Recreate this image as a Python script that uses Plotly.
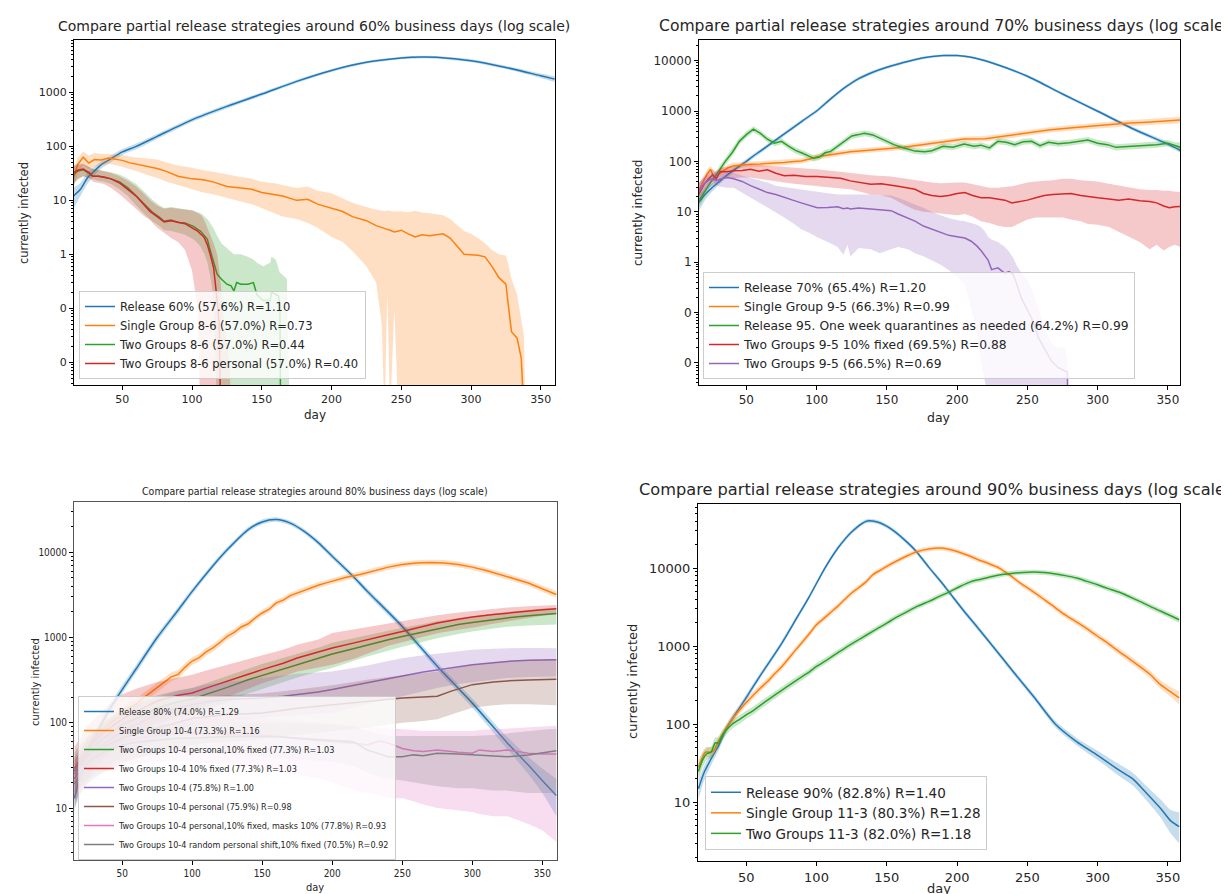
import plotly.graph_objects as go

W, H = 1229, 894

# ---------------- data: rows are (day, mean, low, high) ----------------
# Panel 1: around 60%
P1_BLUE = [(15, 12, 7, 17), (20, 16, 12, 21), (25, 26, 20, 32), (30, 35, 29, 42), (35, 46, 39, 53),
           (40, 55, 47, 63), (50, 79, 69, 89), (60, 100, 88, 113), (75, 153, 137, 170), (100, 310, 283, 340),
           (125, 550, 505, 598), (150, 930, 860, 1005), (175, 1600, 1490, 1720), (200, 2550, 2390, 2720),
           (225, 3600, 3390, 3820), (250, 4330, 4090, 4580), (265, 4500, 4250, 4760), (275, 4450, 4200, 4710),
           (300, 3850, 3620, 4090), (325, 2900, 2700, 3110), (350, 2030, 1850, 2230), (360, 1760, 1560, 1980)]
P1_ORANGE = [(15, 26, 17, 38), (18, 46, 30, 60), (22, 63, 45, 80), (26, 49, 38, 68), (30, 57, 42, 75),
             (35, 56, 44, 72), (40, 61, 48, 72), (45, 58, 45, 71), (50, 55, 42, 70), (55, 50, 38, 65),
             (60, 47, 35, 62), (67, 43, 30, 60), (75, 39, 26, 57), (82, 34, 22, 50), (90, 28, 19, 44),
             (100, 25, 16, 40), (108, 24, 14, 36), (115, 22, 13, 34), (125, 18, 11, 30), (135, 17, 9.5, 27),
             (143, 16, 8.5, 25), (150, 14, 7.2, 22), (158, 13, 6, 21), (165, 12, 5, 19), (175, 10, 4.5, 17),
             (183, 10.5, 3.8, 18), (190, 8.5, 3.1, 15), (200, 7.2, 2.1, 13.6), (208, 6.2, 1.7, 11),
             (215, 5.0, 1.15, 9), (225, 4.2, 0.6, 7.5), (232, 3.4, 0.3, 6.7), (236, 3.1, 0.05, 6.5),
             (238, 3.0, 0.001, 6.3), (240, 2.9, 0.2, 6.5), (242, 2.8, 0.001, 6.4), (245, 2.6, 0.1, 6.2),
             (248, 2.7, 0.001, 6.3), (250, 2.8, 0.001, 6.3), (255, 2.4, 0.001, 6.0), (260, 2.1, 0.001, 6.4),
             (265, 2.3, 0.001, 5.9), (270, 2.2, 0.001, 5.8), (275, 2.3, 0.001, 5.5), (280, 2.4, 0.001, 5.3),
             (285, 2.0, 0.001, 4.5), (290, 1.4, 0.001, 3.5), (295, 1.0, 0.001, 2.7), (300, 0.98, 0.001, 2.4),
             (305, 0.96, 0.001, 2.0), (310, 0.9, 0.001, 1.6), (315, 0.6, 0.001, 1.2), (320, 0.37, 0.001, 1.0),
             (325, 0.28, 0.001, 0.95), (327, 0.10, 0.001, 0.6), (329, 0.037, 0.001, 0.35),
             (333, 0.028, 0.001, 0.18), (336, 0.012, 0.001, 0.06), (338, 0.001, 0.001, 0.03),
             (339, 0.001, 0.001, 0.001)]
P1_GREEN = [(15, 30, 20, 42), (18, 35, 24, 45), (22, 37, 28, 46), (26, 32, 26, 42), (29, 28, 24, 38),
            (33, 28, 23, 36), (37, 27, 22, 35), (42, 25, 20, 33), (48, 22, 16, 30), (54, 17, 12, 25),
            (60, 12, 8, 20), (66, 8.5, 5.5, 14), (72, 5.9, 4.0, 10), (77, 4.8, 3.3, 8), (80, 4.1, 2.8, 7.2),
            (85, 4.3, 2.7, 7.5), (90, 3.9, 2.5, 7.2), (95, 3.8, 2.3, 7.0), (98, 3.5, 2.1, 6.8),
            (101, 3.3, 1.9, 6.5), (104, 2.9, 1.6, 6.0), (106, 2.7, 1.4, 5.8), (109, 2.2, 1.0, 5.0),
            (111, 1.9, 0.7, 4.5), (113, 1.2, 0.4, 3.8), (115.5, 0.74, 0.15, 3.0), (118, 0.43, 0.001, 2.2),
            (121, 0.35, 0.001, 1.6), (125, 0.28, 0.001, 1.3), (128, 0.26, 0.001, 1.1), (130, 0.21, 0.001, 1.0),
            (132, 0.3, 0.001, 1.0), (135, 0.28, 0.001, 1.0), (140, 0.28, 0.001, 0.9), (144, 0.30, 0.001, 0.8),
            (146.5, 0.18, 0.001, 0.7), (151, 0.14, 0.001, 0.6), (156, 0.14, 0.001, 0.7), (157, 0.2, 0.001, 0.9),
            (160, 0.18, 0.001, 0.8), (162, 0.17, 0.001, 0.5), (163, 0.12, 0.001, 0.45),
            (163.5, 0.001, 0.001, 0.45), (168, 0.001, 0.001, 0.35), (170, 0.001, 0.001, 0.001)]
P1_RED = [(15, 32, 20, 45), (18, 36, 25, 47), (22, 38, 28, 48), (26, 33, 26, 42), (29, 28, 22, 38),
          (33, 28, 21, 37), (37, 27, 20, 35), (42, 25, 17, 32), (48, 21, 13, 28), (54, 16, 9.5, 23),
          (60, 12, 7, 18), (66, 8, 5, 13), (70, 6.2, 4.3, 10), (75, 5.0, 3.1, 8), (80, 4.0, 2.5, 7),
          (85, 4.2, 2.0, 7.3), (90, 3.9, 1.7, 7), (95, 3.7, 1.2, 6.8), (100, 3.1, 0.5, 6.5),
          (104, 2.7, 0.1, 5.8), (106, 2.4, 0.001, 5.5), (107, 2.3, 0.001, 5.2), (109, 2.0, 0.001, 4.2),
          (111, 1.5, 0.001, 3.2), (113, 1.0, 0.001, 2.3), (115.5, 0.56, 0.001, 1.6), (118, 0.14, 0.001, 1.0),
          (119.5, 0.05, 0.001, 0.5), (120.5, 0.001, 0.001, 0.3), (123, 0.001, 0.001, 0.05),
          (127, 0.001, 0.001, 0.01), (128, 0.001, 0.001, 0.001)]

# Panel 2: around 70%
P2_BLUE = [(16, 15, 10, 21), (20, 21, 16, 27), (25, 29, 24, 35), (30, 38, 33, 44), (35, 50, 44, 57),
           (40, 64, 57, 72), (45, 80, 72, 89), (50, 100, 90, 111), (55, 128, 116, 141), (60, 160, 145, 176),
           (75, 320, 292, 350), (90, 640, 585, 700), (100, 1000, 915, 1090), (110, 1740, 1600, 1890),
           (120, 2900, 2670, 3150), (130, 4400, 4060, 4770), (140, 5900, 5460, 6370), (150, 7400, 6900, 7950),
           (160, 8900, 8320, 9520), (175, 11300, 10600, 12000), (190, 12600, 11900, 13300),
           (200, 12600, 11900, 13300), (210, 11700, 11000, 12400), (225, 9000, 8450, 9600),
           (250, 4900, 4580, 5250), (275, 2180, 2030, 2340), (300, 990, 920, 1070), (325, 445, 410, 485),
           (350, 220, 200, 243), (359, 165, 148, 185)]
P2_ORANGE = [(16, 26, 20, 34), (19, 38, 30, 48), (22, 56, 45, 68), (24.5, 70, 58, 82), (27, 48, 40, 60),
             (30, 55, 46, 66), (33, 63, 54, 74), (37, 75, 65, 87), (41, 82, 71, 94), (47, 86, 75, 98),
             (53, 88, 77, 100), (60, 89, 78, 101), (67, 91, 80, 104), (77, 95, 83, 108), (84, 100, 88, 114),
             (89, 102, 90, 116), (95, 112, 98, 127), (100.5, 124, 109, 141), (110, 136, 120, 154),
             (124, 156, 138, 176), (135, 165, 146, 186), (150, 178, 157, 201), (162, 190, 168, 215),
             (175, 215, 190, 243), (190, 240, 212, 272), (205, 277, 245, 313), (220, 280, 247, 318),
             (235, 320, 282, 362), (253, 380, 335, 430), (265, 420, 370, 477), (280, 460, 405, 523),
             (293, 495, 435, 565), (305, 525, 460, 600), (320, 570, 495, 655), (335, 600, 520, 695),
             (350, 640, 550, 745), (359, 665, 570, 775)]
P2_GREEN = [(16, 16, 12, 21), (20, 24, 19, 30), (25, 40, 33, 48), (30, 62, 52, 74), (35, 100, 85, 118),
            (40, 150, 128, 176), (45, 250, 215, 290), (50, 340, 295, 390), (55, 435, 380, 500),
            (60, 360, 315, 410), (65, 275, 240, 315), (70, 230, 200, 265), (75, 250, 218, 287),
            (80, 200, 175, 230), (85, 165, 144, 189), (90, 145, 127, 166), (95, 125, 109, 143),
            (98, 115, 100, 132), (102, 122, 106, 140), (106, 148, 129, 170), (110, 158, 138, 181),
            (115, 200, 174, 230), (120, 250, 218, 287), (125, 320, 280, 366), (130, 340, 297, 389),
            (134, 360, 315, 412), (140, 335, 293, 383), (148, 265, 231, 304), (155, 215, 188, 246),
            (162, 185, 161, 212), (170, 160, 140, 183), (177, 155, 135, 178), (182, 163, 142, 187),
            (190, 200, 174, 230), (197, 190, 166, 218), (205, 220, 192, 252), (212, 200, 174, 230),
            (217, 210, 183, 241), (223, 185, 161, 212), (229, 250, 218, 287), (235, 240, 209, 275),
            (241, 215, 188, 246), (247, 245, 214, 281), (253, 250, 218, 287), (259, 205, 179, 235),
            (265, 240, 209, 275), (272, 225, 196, 258), (280, 235, 205, 270), (287, 255, 222, 292),
            (293, 265, 231, 304), (300, 230, 200, 265), (307, 215, 187, 247), (313, 190, 165, 218),
            (320, 195, 170, 224), (328, 200, 174, 230), (335, 205, 178, 236), (342, 215, 187, 247),
            (350, 230, 200, 265), (355, 210, 183, 241), (359, 190, 150, 240)]
P2_RED = [(16, 22, 16, 37), (20, 35, 25, 50), (23, 45, 33, 62), (26, 54, 40, 70), (28.5, 45, 34, 63),
          (31.5, 63, 45, 75), (36, 62, 46, 78), (41, 65, 47, 82), (47, 66, 48, 86), (53, 70, 48, 88),
          (59, 64, 45, 85), (65, 68, 42, 82), (71, 58, 40, 80), (77, 52, 38, 77), (84, 53, 36, 74),
          (92, 50, 34, 72), (100.5, 50, 33, 70), (110, 47, 30, 66), (117, 46, 29, 63), (124, 41, 28, 60),
          (131, 38, 25, 56), (138.5, 35, 22, 53), (146, 36, 21, 52), (153, 33, 19, 50), (158, 32, 16, 48),
          (164, 30, 13, 45), (170, 28, 11, 42), (176, 23, 10, 40), (182, 21, 9.7, 38), (188, 20, 9.3, 37),
          (194, 21, 9, 38), (200, 23, 8.5, 38), (205.5, 24, 9, 38), (211, 21, 8, 35), (217, 19, 6.5, 32),
          (223, 19, 6, 30), (229, 18, 5.3, 30), (234, 17, 5, 31), (239, 15, 5, 32), (245, 16, 6, 35),
          (250, 17, 7, 38), (256, 19, 7.7, 40), (262, 21, 7.7, 41), (268, 22, 7.7, 42), (275, 22.5, 7.7, 45),
          (281, 23, 7, 45), (288, 21, 6.5, 42), (293, 20, 5.7, 41), (300, 19, 5.5, 40), (308, 18, 5, 36),
          (315, 17, 4, 33), (322, 18, 3.2, 30), (330, 16.5, 2.5, 28), (337, 16, 1.8, 27), (342, 15, 2.2, 27),
          (347, 13, 1.7, 26), (351, 12, 2.0, 26), (355, 12.5, 2.2, 25), (359, 12.8, 2.0, 25)]
P2_PURPLE = [(16, 25, 19, 38), (20, 36, 27, 48), (24.5, 45, 32, 56), (29, 42, 33, 60), (33, 46, 31, 60),
             (36.5, 48, 30, 60), (41, 45, 30, 60), (47, 40, 24, 52), (53, 33, 19, 46), (59, 28, 15, 42),
             (65, 24, 12, 38), (71, 22, 9.5, 33), (77, 19, 7.7, 31), (83, 17, 6, 29), (89, 15, 4.5, 28),
             (95, 13.5, 3.8, 26), (100.5, 12, 3.1, 25), (108, 12.2, 2.5, 23), (115, 12.6, 2.0, 22),
             (119, 11.5, 1.4, 22), (122, 11.8, 2.2, 22), (124, 11.3, 1.3, 22), (130, 11.8, 1.9, 22),
             (138.5, 11.3, 1.8, 22), (145, 11, 1.5, 21), (153, 10.5, 1.8, 21), (158, 9, 2.0, 19),
             (165, 7.5, 1.8, 16), (170, 6.5, 1.5, 14), (176, 5.2, 1.3, 12), (182, 4.5, 1.1, 10),
             (188, 3.8, 0.9, 8.5), (194, 3.4, 0.7, 7.5), (200, 3.2, 0.5, 6.8), (205.5, 3.0, 0.35, 6.5),
             (210, 2.6, 0.12, 6.0), (214, 2.1, 0.04, 5.5), (217, 1.7, 0.01, 5), (220, 1.3, 0.004, 4),
             (222, 1.1, 0.002, 3.2), (224.5, 0.71, 0.0001, 2.8), (229, 0.77, 0.0001, 2.5),
             (234, 0.6, 0.0001, 2.0), (237, 0.65, 0.0001, 1.6), (240, 0.56, 0.0001, 1.2),
             (242, 0.4, 0.0001, 0.9), (245.8, 0.19, 0.0001, 0.6), (250, 0.11, 0.0001, 0.45),
             (253, 0.077, 0.0001, 0.3), (258, 0.031, 0.0001, 0.12), (262, 0.02, 0.0001, 0.05),
             (267, 0.011, 0.0001, 0.025), (272, 0.008, 0.0001, 0.02), (276.7, 0.0067, 0.0001, 0.02),
             (278.5, 0.0065, 0.0001, 0.012), (279, 0.0001, 0.0001, 0.0001)]

# Panel 3: around 80%
P3_BLUE = [(16, 13, 9, 18), (20, 25, 19, 32), (25, 43, 35, 52), (30, 65, 55, 77), (40, 135, 118, 155),
           (50, 245, 218, 275), (60, 430, 385, 480), (75, 1000, 905, 1100), (90, 2100, 1920, 2300),
           (100, 3480, 3200, 3780), (115, 7000, 6500, 7550), (125, 10700, 9950, 11500),
           (140, 18500, 17300, 19800), (150, 22700, 21300, 24200), (160, 24200, 22800, 25700),
           (170, 22000, 20700, 23400), (180, 17600, 16500, 18800), (190, 13000, 12100, 13950),
           (200, 9000, 8380, 9680), (215, 5200, 4820, 5600), (225, 3500, 3230, 3790), (250, 1350, 1230, 1480),
           (275, 460, 415, 510), (300, 170, 150, 193), (325, 58, 49, 68), (340, 32, 25, 40),
           (350, 21, 15, 29), (360, 14, 8, 22)]
P3_ORANGE = [(16, 27, 18, 38), (20, 35, 26, 46), (25, 50, 40, 62), (30, 62, 51, 75), (35, 78, 65, 93),
             (40, 95, 80, 112), (45, 110, 93, 130), (50, 125, 107, 146), (55, 150, 129, 174),
             (60, 165, 143, 190), (65, 195, 170, 223), (70, 225, 197, 256), (75, 260, 229, 295),
             (80, 300, 265, 340), (85, 345, 306, 389), (90, 370, 330, 415), (95, 450, 402, 504),
             (100, 530, 475, 592), (105, 580, 522, 645), (110, 680, 612, 755), (115, 760, 686, 842),
             (120, 880, 796, 973), (125, 1030, 935, 1135), (130, 1150, 1045, 1265), (135, 1330, 1212, 1460),
             (140, 1450, 1323, 1590), (145, 1700, 1555, 1860), (150, 1940, 1776, 2120), (155, 2150, 1970, 2345),
             (160, 2550, 2340, 2780), (165, 2750, 2525, 2995), (170, 3100, 2850, 3370), (175, 3330, 3065, 3620),
             (180, 3600, 3315, 3910), (185, 3850, 3548, 4178), (190, 4100, 3780, 4447), (195, 4350, 4012, 4717),
             (200, 4600, 4245, 4985), (210, 5100, 4710, 5520), (220, 5500, 5085, 5950), (230, 6100, 5645, 6590),
             (240, 6700, 6205, 7235), (250, 7200, 6670, 7770), (260, 7500, 6950, 8090), (270, 7600, 7045, 8200),
             (280, 7500, 6950, 8095), (290, 7200, 6670, 7775), (300, 6700, 6200, 7240), (310, 6100, 5640, 6600),
             (320, 5500, 5080, 5955), (325, 5200, 4800, 5635), (330, 4900, 4520, 5315), (340, 4370, 4025, 4745),
             (350, 3750, 3440, 4090), (360, 3200, 2920, 3510)]
P3_GREEN = [(16, 27, 15, 45), (20, 34, 20, 55), (25, 44, 27, 70), (30, 53, 33, 82), (40, 72, 45, 110),
            (50, 95, 60, 145), (60, 112, 72, 168), (75, 150, 95, 210), (90, 177, 112, 240), (100, 190, 125, 255),
            (110, 215, 143, 290), (125, 260, 175, 350), (140, 320, 220, 430), (150, 360, 250, 490),
            (165, 430, 300, 580), (175, 480, 340, 640), (190, 570, 400, 760), (200, 640, 440, 870),
            (215, 740, 530, 980), (225, 820, 600, 1080), (240, 940, 700, 1200), (250, 1030, 780, 1300),
            (265, 1160, 890, 1440), (275, 1270, 980, 1560), (290, 1420, 1100, 1700), (300, 1500, 1180, 1780),
            (315, 1620, 1280, 1920), (325, 1700, 1340, 2000), (340, 1800, 1380, 2120), (350, 1870, 1400, 2180),
            (360, 1920, 1420, 2230)]
P3_RED = [(16, 29, 14, 52), (20, 38, 18, 68), (25, 50, 22, 92), (30, 61, 28, 110), (40, 85, 42, 160),
          (50, 110, 61, 215), (60, 135, 78, 250), (75, 180, 100, 300), (90, 210, 120, 340), (100, 224, 135, 365),
          (110, 255, 160, 410), (125, 310, 200, 480), (140, 370, 250, 560), (150, 420, 290, 620),
          (165, 500, 350, 720), (175, 575, 400, 820), (190, 670, 445, 950), (200, 755, 480, 1130),
          (215, 860, 560, 1240), (225, 950, 650, 1330), (240, 1080, 800, 1450), (250, 1180, 880, 1560),
          (265, 1350, 1020, 1720), (275, 1480, 1120, 1830), (290, 1640, 1230, 1960), (300, 1740, 1300, 2050),
          (315, 1860, 1450, 2170), (325, 1940, 1550, 2250), (340, 2050, 1700, 2330), (350, 2120, 1800, 2380),
          (360, 2170, 1870, 2400)]
P3_PURPLE = [(16, 25, 14, 40), (20, 31, 17, 50), (25, 40, 21, 65), (30, 47, 25, 78), (40, 62, 32, 105),
             (50, 80, 40, 135), (60, 95, 48, 160), (75, 125, 65, 200), (90, 150, 82, 235), (100, 163, 95, 255),
             (110, 175, 100, 280), (125, 187, 105, 300), (140, 192, 110, 320), (150, 195, 115, 335),
             (165, 205, 120, 360), (175, 213, 122, 375), (190, 230, 126, 390), (200, 245, 130, 400),
             (215, 275, 150, 440), (225, 294, 165, 470), (240, 330, 190, 530), (250, 354, 205, 570),
             (265, 395, 235, 620), (275, 420, 255, 650), (290, 460, 285, 700), (300, 480, 300, 720),
             (315, 505, 320, 740), (325, 525, 335, 750), (340, 540, 345, 755), (350, 548, 350, 755),
             (360, 550, 350, 750)]
P3_BROWN = [(16, 22, 12, 36), (20, 27, 15, 45), (25, 36, 19, 58), (30, 43, 22, 70), (40, 55, 28, 88),
            (50, 66, 33, 105), (60, 75, 38, 125), (75, 87, 45, 150), (90, 102, 50, 175), (100, 112, 55, 195),
            (110, 118, 58, 205), (125, 125, 60, 210), (140, 128, 62, 215), (150, 130, 65, 220),
            (165, 140, 70, 235), (175, 148, 72, 245), (190, 156, 76, 260), (200, 163, 80, 275),
            (215, 172, 85, 300), (225, 178, 88, 320), (240, 188, 95, 345), (250, 195, 100, 360),
            (265, 200, 105, 380), (275, 205, 110, 400), (285, 235, 125, 430), (300, 280, 150, 480),
            (315, 300, 160, 510), (325, 310, 165, 530), (340, 318, 165, 545), (350, 322, 162, 550),
            (360, 325, 160, 555)]
P3_PINK = [(16, 20, 11, 34), (20, 27, 15, 45), (25, 36, 20, 58), (30, 43, 24, 70), (40, 53, 28, 88),
           (50, 60, 30, 100), (60, 66, 33, 110), (75, 72, 35, 118), (90, 75, 36, 120), (100, 76, 35, 120),
           (115, 74, 33, 118), (125, 73, 32, 117), (140, 72, 30, 115), (150, 72, 29, 112), (165, 68, 27, 108),
           (175, 65, 25, 105), (190, 62, 22, 100), (200, 60, 20, 98), (215, 58, 16, 92), (225, 55, 15, 90),
           (234, 61, 14, 88), (240, 58, 13, 86), (250, 50, 13, 85), (258, 47, 12, 82), (265, 46, 11, 80),
           (275, 48, 10, 80), (290, 45, 9.5, 80), (300, 44, 9, 80), (305, 48, 8.5, 82), (315, 46, 8, 84),
           (325, 48, 8, 86), (340, 44, 6.5, 88), (350, 43, 5.5, 90), (360, 43, 4, 92)]
P3_GRAY = [(16, 19, 10, 30), (20, 25, 14, 40), (25, 33, 19, 52), (30, 39, 23, 62), (40, 48, 29, 75),
           (50, 55, 35, 82), (60, 59, 38, 88), (75, 63, 42, 95), (90, 66, 44, 100), (100, 66, 45, 100),
           (115, 68, 44, 102), (125, 69, 43, 102), (140, 69, 41, 100), (150, 69, 40, 100), (165, 68, 38, 98),
           (175, 66, 37, 97), (190, 64, 36, 96), (200, 63, 35, 95), (215, 60, 31, 90), (225, 48, 26, 80),
           (232, 44, 24, 75), (240, 40, 22, 70), (250, 40, 21, 70), (258, 42, 20, 70), (265, 41, 19, 70),
           (275, 44, 18, 70), (290, 43, 17, 70), (300, 42, 17, 70), (315, 41, 16, 72), (325, 40, 16, 75),
           (340, 42, 15, 80), (350, 44, 15, 83), (360, 47, 15, 85)]

# Panel 4: around 90%
P4_BLUE = [(16, 15, 11, 19), (20, 24, 19, 29), (25, 36, 30, 42), (30, 52, 45, 60), (37, 96, 86, 107),
           (45, 160, 145, 176), (50, 220, 200, 242), (60, 420, 386, 457), (74, 1000, 925, 1080),
           (85, 2150, 1990, 2320), (95, 4350, 4050, 4670), (106, 10000, 9350, 10700), (115, 17800, 16650, 19050),
           (125, 29000, 27250, 30850), (136, 40000, 37750, 42400), (145, 38000, 35800, 40300),
           (155, 30000, 28200, 31900), (165, 21000, 19700, 22400), (171, 16300, 15300, 17400),
           (180, 10200, 9550, 10900), (190, 6200, 5800, 6640), (196, 4500, 4200, 4820), (205, 2800, 2610, 3010),
           (215, 1700, 1580, 1830), (227, 920, 855, 990), (240, 470, 435, 508), (255, 220, 203, 239),
           (270, 100, 91, 110), (285, 60, 54, 67), (300, 40, 35, 46), (315, 26, 22, 31), (325, 20, 16.5, 24),
           (335, 13, 10.5, 16), (345, 8.3, 6.3, 10.8), (352, 5.8, 4.0, 8.0), (358, 4.9, 3.0, 7.5)]
P4_ORANGE = [(16, 28, 22, 35), (19, 38, 32, 45), (21, 44, 38, 51), (24, 44, 38, 51), (27, 46, 40, 53),
             (30, 60, 52, 69), (35, 85, 75, 96), (40, 115, 102, 130), (45, 150, 134, 168), (50, 190, 170, 212),
             (55, 235, 211, 262), (60, 290, 261, 322), (65, 350, 316, 388), (70, 440, 398, 486),
             (75, 540, 490, 595), (80, 690, 628, 758), (85, 890, 812, 975), (90, 1130, 1032, 1237),
             (95, 1450, 1325, 1587), (100, 1880, 1720, 2055), (105, 2250, 2062, 2455), (110, 2700, 2478, 2942),
             (115, 3230, 2968, 3515), (120, 3950, 3635, 4292), (125, 4800, 4424, 5208), (130, 5600, 5168, 6068),
             (135, 6600, 6097, 7145), (140, 8200, 7585, 8865), (145, 9300, 8609, 10047),
             (150, 10500, 9727, 11335), (157, 12300, 11405, 13266), (165, 14500, 13456, 15625),
             (172, 16300, 15140, 17548), (180, 17500, 16264, 18830), (187, 18000, 16733, 19363),
             (195, 17300, 16083, 18609), (200, 16300, 15150, 17537), (208, 14500, 13468, 15611),
             (215, 12800, 11880, 13791), (222, 11500, 10665, 12400), (230, 10000, 9264, 10795),
             (238, 8000, 7400, 8650), (245, 6400, 5910, 6930), (252, 5300, 4888, 5747), (260, 4200, 3868, 4561),
             (267, 3400, 3127, 3697), (275, 2650, 2432, 2888), (282, 2200, 2015, 2402), (290, 1790, 1636, 1958),
             (295, 1550, 1415, 1698), (300, 1340, 1221, 1471), (307, 1100, 1000, 1210), (315, 860, 780, 948),
             (322, 700, 632, 775), (330, 550, 494, 612), (337, 440, 393, 493), (345, 320, 282, 363),
             (352, 260, 225, 300), (358, 218, 180, 264)]
P4_GREEN = [(16, 25, 19, 32), (19, 35, 28, 43), (22, 42, 35, 50), (25, 44, 37, 52), (28, 58, 49, 68),
            (30, 57, 48, 67), (33, 72, 62, 83), (36, 85, 74, 97), (40, 100, 88, 113), (45, 115, 101, 130),
            (50, 132, 117, 149), (55, 150, 133, 169), (60, 175, 156, 196), (67, 215, 192, 240),
            (75, 270, 242, 301), (82, 330, 297, 366), (90, 410, 370, 454), (95, 470, 425, 519),
            (100, 550, 498, 607), (107, 660, 599, 727), (115, 820, 746, 901), (120, 940, 856, 1031),
            (125, 1070, 976, 1172), (132, 1270, 1161, 1389), (140, 1550, 1420, 1691), (145, 1750, 1605, 1908),
            (150, 1970, 1809, 2145), (157, 2350, 2161, 2555), (165, 2800, 2580, 3038), (172, 3250, 2999, 3522),
            (180, 3740, 3456, 4047), (187, 4300, 3978, 4647), (195, 5000, 4631, 5397), (202, 5800, 5378, 6254),
            (210, 6700, 6219, 7217), (217, 7200, 6690, 7748), (225, 7800, 7254, 8386), (232, 8250, 7680, 8863),
            (240, 8600, 8010, 9232), (247, 8800, 8200, 9443), (255, 8900, 8295, 9548), (262, 8750, 8150, 9393),
            (270, 8400, 7817, 9026), (277, 8000, 7440, 8601), (285, 7450, 6923, 8017), (292, 6800, 6313, 7324),
            (300, 6100, 5660, 6573), (307, 5500, 5100, 5931), (315, 4930, 4567, 5322), (322, 4350, 4025, 4700),
            (330, 3740, 3455, 4048), (337, 3250, 2998, 3523), (345, 2800, 2578, 3041), (352, 2450, 2250, 2668),
            (358, 2180, 1995, 2382)]

P1_NAMES = ["Release 60% (57.6%) R=1.10", "Single Group 8-6 (57.0%) R=0.73",
            "Two Groups 8-6 (57.0%) R=0.44", "Two Groups 8-6 personal (57.0%) R=0.40"]
P2_NAMES = ["Release 70% (65.4%) R=1.20", "Single Group 9-5 (66.3%) R=0.99",
            "Release 95. One week quarantines as needed (64.2%) R=0.99",
            "Two Groups 9-5 10% fixed (69.5%) R=0.88", "Two Groups 9-5 (66.5%) R=0.69"]
P3_NAMES = ["Release 80% (74.0%) R=1.29", "Single Group 10-4 (73.3%) R=1.16",
            "Two Groups 10-4 personal,10% fixed (77.3%) R=1.03", "Two Groups 10-4 10% fixed (77.3%) R=1.03",
            "Two Groups 10-4 (75.8%) R=1.00", "Two Groups 10-4 personal (75.9%) R=0.98",
            "Two Groups 10-4 personal,10% fixed, masks 10% (77.8%) R=0.93",
            "Two Groups 10-4 random personal shift,10% fixed (70.5%) R=0.92"]
P4_NAMES = ["Release 90% (82.8%) R=1.40", "Single Group 11-3 (80.3%) R=1.28", "Two Groups 11-3 (82.0%) R=1.18"]

TITLES = ["Compare partial release strategies around 60% business days (log scale)",
          "Compare partial release strategies around 70% business days (log scale)",
          "Compare partial release strategies around 80% business days (log scale)",
          "Compare partial release strategies around 90% business days (log scale)"]

# ---------------- styling ----------------
COLORS = ["#1f77b4", "#ff7f0e", "#2ca02c", "#d62728", "#9467bd", "#8c564b", "#e377c2", "#7f7f7f"]
FONT = "DejaVu Sans, Verdana, sans-serif"
NARROW = "Liberation Sans Narrow, DejaVu Sans Condensed, Roboto Condensed, Liberation Sans, sans-serif"
TXT = "#262626"


def rgba(hexc, a):
    h = hexc.lstrip("#")
    return "rgba(%d,%d,%d,%.2f)" % (int(h[0:2], 16), int(h[2:4], 16), int(h[4:6], 16), a)


def fx(px):
    return px / W


def fy(py):
    return 1 - py / H


fig = go.Figure()


def add_series(rows, color, name, ax, legend, smooth=False):
    days = [r[0] for r in rows]
    mean = [r[1] for r in rows]
    lo = [r[2] for r in rows]
    hi = [r[3] for r in rows]
    xa = "x" if ax == 1 else "x%d" % ax
    ya = "y" if ax == 1 else "y%d" % ax
    shape = "spline" if smooth else "linear"
    fig.add_trace(go.Scatter(x=days, y=lo, mode="lines", line=dict(width=0, shape=shape, smoothing=0.7),
                             showlegend=False, hoverinfo="skip", xaxis=xa, yaxis=ya))
    fig.add_trace(go.Scatter(x=days, y=hi, mode="lines", line=dict(width=0, shape=shape, smoothing=0.7),
                             fill="tonexty", fillcolor=rgba(color, 0.25),
                             showlegend=False, hoverinfo="skip", xaxis=xa, yaxis=ya))
    fig.add_trace(go.Scatter(x=days, y=mean, mode="lines", name=name,
                             line=dict(color=color, width=1.5, shape=shape, smoothing=0.7),
                             legend=legend, xaxis=xa, yaxis=ya))


for i, rows in enumerate([P1_BLUE, P1_ORANGE, P1_GREEN, P1_RED]):
    add_series(rows, COLORS[i], P1_NAMES[i], 1, "legend", smooth=(i == 0))
for i, rows in enumerate([P2_BLUE, P2_ORANGE, P2_GREEN, P2_RED, P2_PURPLE]):
    add_series(rows, COLORS[i], P2_NAMES[i], 2, "legend2", smooth=(i == 0))
for i, rows in enumerate([P3_BLUE, P3_ORANGE, P3_GREEN, P3_RED, P3_PURPLE, P3_BROWN, P3_PINK, P3_GRAY]):
    add_series(rows, COLORS[i], P3_NAMES[i], 3, "legend3", smooth=(i == 0))
for i, rows in enumerate([P4_BLUE, P4_ORANGE, P4_GREEN]):
    add_series(rows, COLORS[i], P4_NAMES[i], 4, "legend4", smooth=True)

MINOR = [m * 10 ** e for e in range(-5, 6) for m in range(2, 10)]

# panel boxes in pixels: (left, top, right, bottom)
BOXES = [(66, 32, 547, 377), (691, 32, 1172, 377), (66, 494, 549, 852), (690, 496, 1172, 853)]
XRANGES = [[15.4, 360.2], [16.3, 358.6], [15.6, 360.5], [15.7, 358.6]]
YRANGES = [[-2.42, 3.97], [-2.44, 4.41], [0.39, 4.59], [0.25, 4.82]]
YTICKS = [([0.01, 0.1, 1, 10, 100, 1000], ["0", "0", "1", "10", "100", "1000"]),
          ([0.01, 0.1, 1, 10, 100, 1000, 10000], ["0", "0", "1", "10", "100", "1000", "10000"]),
          ([10, 100, 1000, 10000], ["10", "100", "1000", "10000"]),
          ([10, 100, 1000, 10000], ["10", "100", "1000", "10000"])]
FAMS = [FONT, FONT, NARROW, FONT]
TICKSIZE = [11, 12, 10, 13]
LINECOL = ["#000", "#000", "#555", "#000"]

layout = dict(width=W, height=H, margin=dict(l=0, r=0, t=0, b=0),
              paper_bgcolor="white", plot_bgcolor="white", hovermode=False)

for k in range(4):
    l, t, r, b = BOXES[k]
    sx = "xaxis" if k == 0 else "xaxis%d" % (k + 1)
    sy = "yaxis" if k == 0 else "yaxis%d" % (k + 1)
    anchor_x = "y" if k == 0 else "y%d" % (k + 1)
    anchor_y = "x" if k == 0 else "x%d" % (k + 1)
    tf = dict(family=FAMS[k], size=TICKSIZE[k], color=TXT)
    layout[sx] = dict(domain=[fx(l), fx(r)], anchor=anchor_x, range=XRANGES[k],
                      tickmode="array", tickvals=[50, 100, 150, 200, 250, 300, 350],
                      ticks="outside", ticklen=4, tickcolor="#000", tickfont=tf,
                      showgrid=False, zeroline=False, showline=True, mirror=True,
                      linecolor=LINECOL[k], linewidth=1)
    layout[sy] = dict(domain=[fy(b), fy(t)], anchor=anchor_y, type="log", range=YRANGES[k],
                      tickmode="array", tickvals=YTICKS[k][0], ticktext=YTICKS[k][1],
                      ticks="outside", ticklen=4, tickcolor="#000", tickfont=tf,
                      minor=dict(tickmode="array", tickvals=MINOR, ticks="outside", ticklen=2,
                                 tickcolor="#000", showgrid=False),
                      showgrid=False, zeroline=False, showline=True, mirror=True,
                      linecolor=LINECOL[k], linewidth=1)

LEG_POS = [(71, 371), (695, 371), (70, 852), (697, 842)]
LEG_SIZE = [11.5, 12.3, 9, 13.5]
for k in range(4):
    key = "legend" if k == 0 else "legend%d" % (k + 1)
    lx, ly = LEG_POS[k]
    layout[key] = dict(x=fx(lx), y=fy(ly), xanchor="left", yanchor="bottom", traceorder="normal",
                       bgcolor="rgba(255,255,255,0.8)", bordercolor="#cccccc", borderwidth=1,
                       font=dict(family=FAMS[k], size=LEG_SIZE[k], color=TXT),
                       tracegroupgap=0, itemwidth=30)

ann = []
# (x, y, size, anchor)
TITLE_POS = [(306, 18, 14, "center"), (1224, 18, 15.6, "right"), (307, 483, 10.5, "center"),
             (1225, 481, 16.2, "right")]
for k in range(4):
    x, y, s, anc = TITLE_POS[k]
    ann.append(dict(text=TITLES[k], x=fx(x), y=fy(y), xref="paper", yref="paper",
                    xanchor=anc, yanchor="middle", showarrow=False,
                    font=dict(family=FAMS[k], size=s, color=TXT)))
DAY_POS = [(307, 407, 12), (931, 409, 12.5), (307, 879, 11), (931, 880, 13)]
for k in range(4):
    x, y, s = DAY_POS[k]
    ann.append(dict(text="day", x=fx(x), y=fy(y), xref="paper", yref="paper",
                    xanchor="center", yanchor="middle", showarrow=False,
                    font=dict(family=FAMS[k], size=s, color=TXT)))
YL_POS = [(16, 205, 11.5), (630, 205, 12), (27, 674, 11), (624, 674, 13)]
for k in range(4):
    x, y, s = YL_POS[k]
    ann.append(dict(text="currently infected", x=fx(x), y=fy(y), xref="paper", yref="paper",
                    xanchor="center", yanchor="middle", showarrow=False, textangle=-90,
                    font=dict(family=FAMS[k], size=s, color=TXT)))
layout["annotations"] = ann

fig.update_layout(**layout)
fig.write_html("out.html")
